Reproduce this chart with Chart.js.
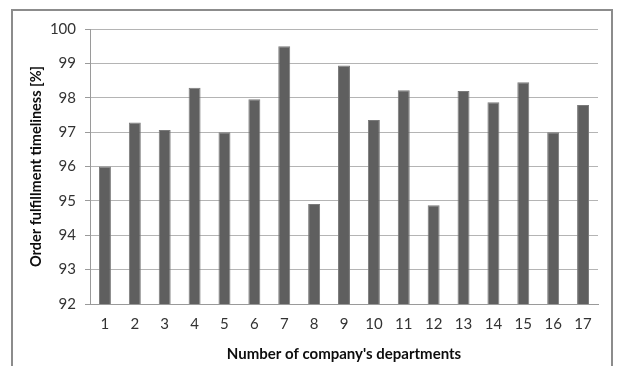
<!DOCTYPE html>
<html>
<head>
<meta charset="utf-8">
<script src="https://cdn.jsdelivr.net/npm/chart.js@4/dist/chart.umd.min.js"></script>
<style>
  html, body { margin: 0; padding: 0; background: #ffffff; }
  #wrap { position: relative; width: 617px; height: 366px; overflow: hidden; }
  #frame { position: absolute; left: 11px; top: 9px; width: 602px; height: 380px;
           border: 2px solid #8c8c8c; box-sizing: border-box; pointer-events: none; }
  canvas { position: absolute; left: 0; top: 0; }
</style>
</head>
<body>
<div id="wrap">
  <canvas id="chart" width="617" height="366"></canvas>
  <div id="frame"></div>
</div>
<script>
// Department numbers along the horizontal axis
const departments = ['1','2','3','4','5','6','7','8','9','10','11','12','13','14','15','16','17'];
// Order fulfillment timeliness per department, in percent
const timeliness = [96.0, 97.28, 97.06, 98.29, 97.0, 97.96, 99.5, 94.91, 98.94, 97.35, 98.22, 94.87, 98.2, 97.87, 98.45, 97.0, 97.79];
// Vertical axis range and step
const yMin = 92;
const yMax = 100;
const yStep = 1;

const fontFamily = 'Lato, "Open Sans", "Liberation Sans", sans-serif';

new Chart(document.getElementById('chart'), {
  type: 'bar',
  data: {
    labels: departments,
    datasets: [{
      data: timeliness,
      backgroundColor: '#5f5f5f',
      borderColor: '#7a7a7a',
      borderWidth: 1,
      borderSkipped: 'bottom',
      barPercentage: 0.4,
      categoryPercentage: 1.0
    }]
  },
  options: {
    responsive: false,
    animation: false,
    layout: { padding: { left: 25, top: 29, right: 19, bottom: 2 } },
    plugins: { legend: { display: false }, tooltip: { enabled: false } },
    scales: {
      x: {
        grid: { display: false, drawTicks: false },
        border: { display: true, color: '#9a9a9a', width: 1 },
        ticks: { color: '#333333', font: { family: fontFamily, size: 15 }, padding: 11, maxRotation: 0 },
        title: {
          display: true,
          text: "Number of company's departments",
          color: '#0d0d0d',
          font: { family: fontFamily, size: 15, weight: 'bold' },
          padding: { top: 4, bottom: 1 }
        },
        afterFit: (scale) => { scale.height = 60; }
      },
      y: {
        min: yMin,
        max: yMax,
        grid: { color: '#b4b4b4', lineWidth: 1, drawTicks: true, tickLength: 5, tickColor: '#9a9a9a' },
        border: { display: true, color: '#9a9a9a', width: 1 },
        ticks: { stepSize: yStep, color: '#333333', font: { family: fontFamily, size: 15 }, padding: 9 },
        title: {
          display: true,
          text: 'Order fulfillment timeliness [%]',
          color: '#0d0d0d',
          font: { family: fontFamily, size: 14.5, weight: 'bold' },
          padding: { top: 3, bottom: 4 }
        },
        afterFit: (scale) => { scale.width = 65; }
      }
    }
  }
});
</script>
</body>
</html>
